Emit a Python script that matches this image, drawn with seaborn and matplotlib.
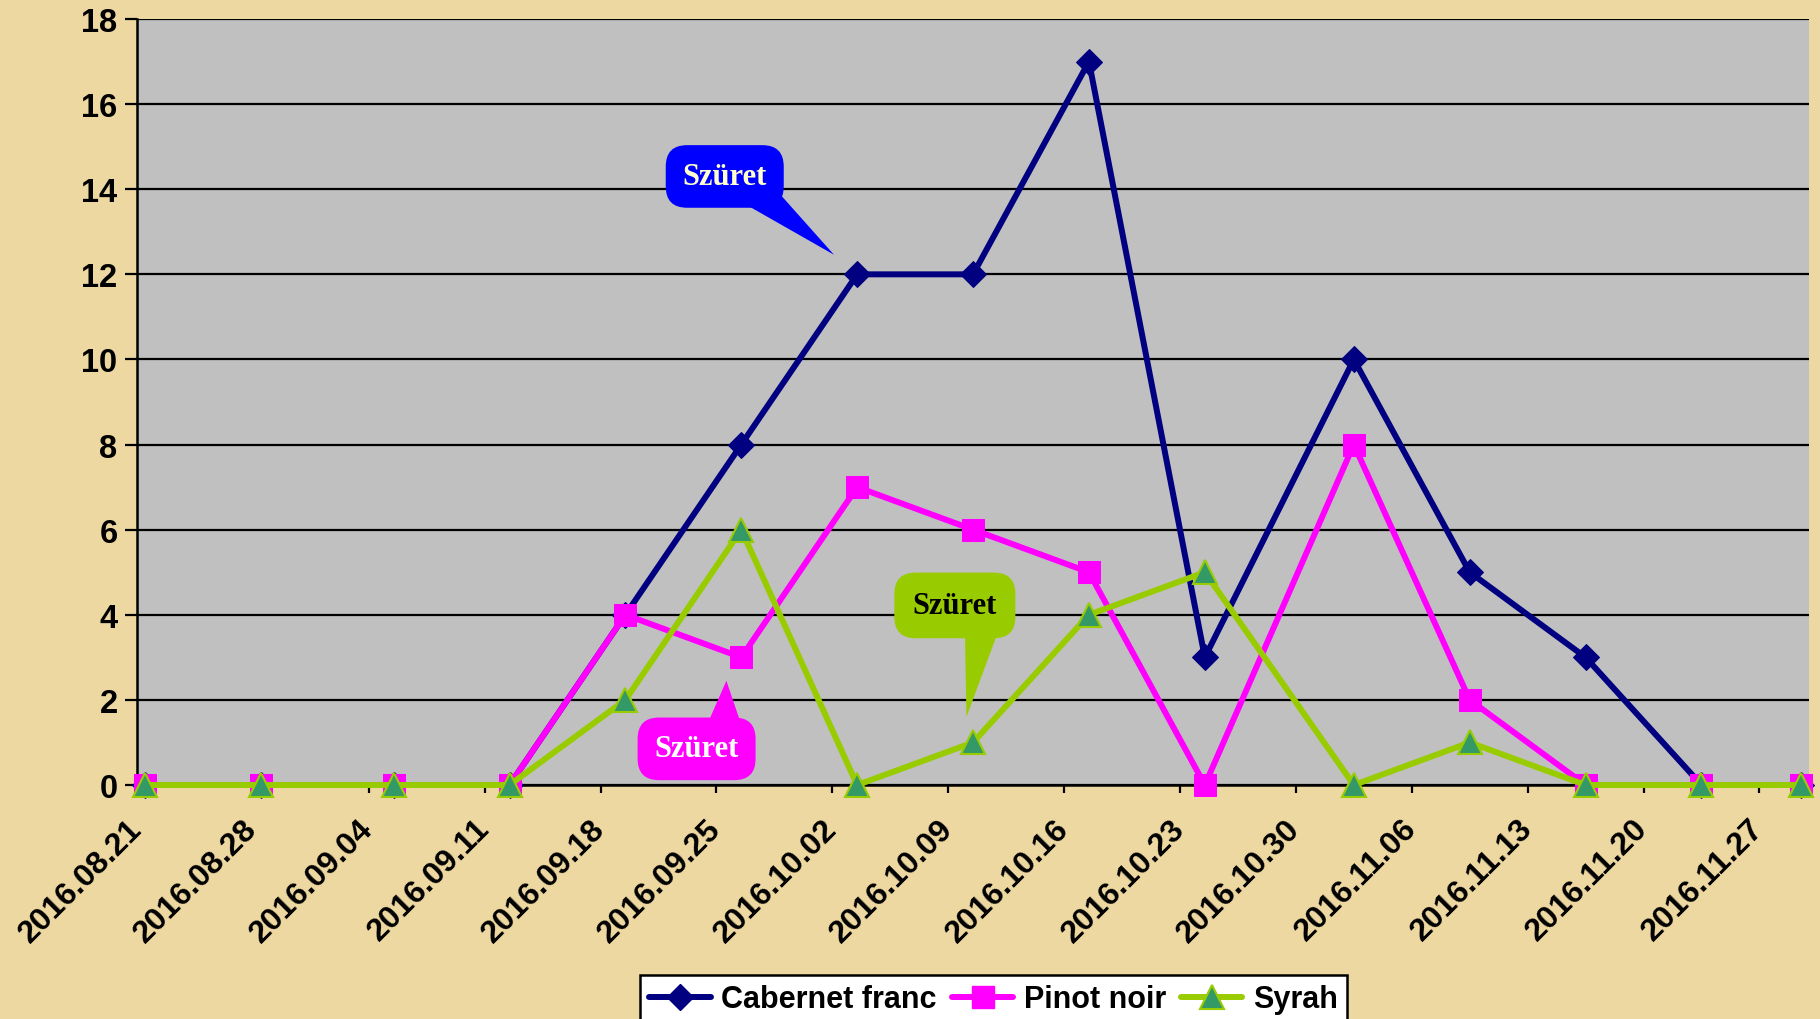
import matplotlib
matplotlib.use("Agg")
import matplotlib.pyplot as plt
import seaborn as sns
import pandas as pd
import numpy as np
from matplotlib.lines import Line2D
from matplotlib.patches import Polygon

# ---------------- data ----------------
dates = ['2016-08-21', '2016-08-28', '2016-09-05', '2016-09-12', '2016-09-19',
         '2016-09-26', '2016-10-03', '2016-10-10', '2016-10-17', '2016-10-24',
         '2016-11-02', '2016-11-09', '2016-11-16', '2016-11-23', '2016-11-29']
cabernet = [0, 0, 0, 0, 4, 8, 12, 12, 17, 3, 10, 5, 3, 0, 0]
pinot = [0, 0, 0, 0, 4, 3, 7, 6, 5, 0, 8, 2, 0, 0, 0]
syrah = [0, 0, 0, 0, 2, 6, 0, 1, 4, 5, 0, 1, 0, 0, 0]
series_names = ['Cabernet franc', 'Pinot noir', 'Syrah']
tick_labels = ['2016.08.21', '2016.08.28', '2016.09.04', '2016.09.11', '2016.09.18',
               '2016.09.25', '2016.10.02', '2016.10.09', '2016.10.16', '2016.10.23',
               '2016.10.30', '2016.11.06', '2016.11.13', '2016.11.20', '2016.11.27']
y_ticks = [0, 2, 4, 6, 8, 10, 12, 14, 16, 18]
axis_start = '2016-08-21'
axis_days = 101
callout_text = 'Szüret'

# ---------------- style ----------------
sns.set_theme(style='white')
plt.rcParams['font.family'] = ['Liberation Sans', 'DejaVu Sans']
plt.rcParams['text.color'] = 'black'
plt.rcParams['xtick.color'] = 'black'
plt.rcParams['ytick.color'] = 'black'

BG = '#eed8a2'
fig = plt.figure(figsize=(18.2, 10.2), dpi=100, facecolor=BG)
ax = fig.add_axes([0.0753, 0.2294, 0.9187, 0.7510])
ax.set_facecolor('#c0c0c0')

start = pd.Timestamp(axis_start)
day = (pd.to_datetime(pd.Series(dates)) - start).dt.days + 0.5
df = pd.DataFrame({'day': day, series_names[0]: cabernet,
                   series_names[1]: pinot, series_names[2]: syrah})

styles = {
    'Cabernet franc': dict(color='#000080', marker='D', markersize=13.5,
                           markerfacecolor='#000080', markeredgecolor='#000080'),
    'Pinot noir': dict(color='#ff00ff', marker='s', markersize=16,
                       markerfacecolor='#ff00ff', markeredgecolor='#ff00ff'),
    'Syrah': dict(color='#99cc00', marker='^', markersize=17,
                  markerfacecolor='#339966', markeredgecolor='#99cc00',
                  markeredgewidth=1.5),
}

for name in series_names:
    st = styles[name]
    sns.lineplot(data=df, x='day', y=name, ax=ax, linewidth=4.3, sort=False,
                 clip_on=False, zorder=3, legend=False, **st)

ax.set_ylim(0, 18)
ax.set_xlim(0, axis_days)
ax.set_yticks(y_ticks)
ax.set_yticklabels([str(v) for v in y_ticks], fontsize=23.5, fontweight='bold',
                   color='black')
ax.yaxis.grid(True, color='black', linewidth=1.6)
ax.xaxis.grid(False)
ax.set_axisbelow(True)

xt = np.arange(0, 7 * len(tick_labels), 7)
ax.set_xticks(xt)
ax.set_xticklabels(tick_labels, rotation=45, ha='right', va='center',
                   rotation_mode='anchor', fontsize=23, fontweight='bold',
                   color='black')
ax.tick_params(axis='x', direction='out', length=6, width=1.6, color='black', pad=22,
               bottom=True)
ax.tick_params(axis='y', direction='out', length=9, width=1.6, color='black', pad=5,
               left=True)
ax.set_xlabel('')
ax.set_ylabel('')

for side in ['top', 'right']:
    ax.spines[side].set_visible(False)
for side in ['left', 'bottom']:
    ax.spines[side].set_color('black')
    ax.spines[side].set_linewidth(1.8)

# ---------------- callouts ----------------
def callout(text, center, tail, fc, tc, pad=0.55):
    ax.text(center[0], center[1], text, ha='center', va='center', fontsize=22,
            fontweight='bold', family=['Liberation Serif', 'DejaVu Serif'],
            color=tc, zorder=6,
            bbox=dict(boxstyle='round,pad=%s,rounding_size=0.7' % pad, fc=fc, ec='none'))
    ax.add_patch(Polygon(tail, closed=True, fc=fc, ec='none', zorder=5))

callout(callout_text, (35.5, 14.3),
        [(35.6, 13.9), (38.8, 13.9), (42.1, 12.46)], '#0000ff', '#ffffcc')
callout(callout_text, (33.8, 0.85),
        [(34.3, 1.3), (36.6, 1.3), (35.6, 2.45)], '#ff00ff', '#ffffff')
callout(callout_text, (49.4, 4.22),
        [(50.0, 3.8), (52.2, 3.8), (50.1, 1.6)], '#99cc00', '#000000', pad=0.6)

# ---------------- legend ----------------
handles = []
for name in series_names:
    st = styles[name]
    handles.append(Line2D([0], [0], linewidth=4.3, **st))
leg = fig.legend(handles, series_names, loc='upper center', bbox_to_anchor=(0.546, 0.058),
                 ncol=3, frameon=True, fancybox=False, framealpha=1,
                 facecolor='white', edgecolor='black', handlelength=2.0,
                 handletextpad=0.35, columnspacing=0.5, borderpad=0.3,
                 prop={'weight': 'bold', 'size': 22})
for t in leg.get_texts():
    t.set_color('black')
leg.get_frame().set_linewidth(1.8)

fig.savefig('out.png', dpi=100, facecolor=BG)
